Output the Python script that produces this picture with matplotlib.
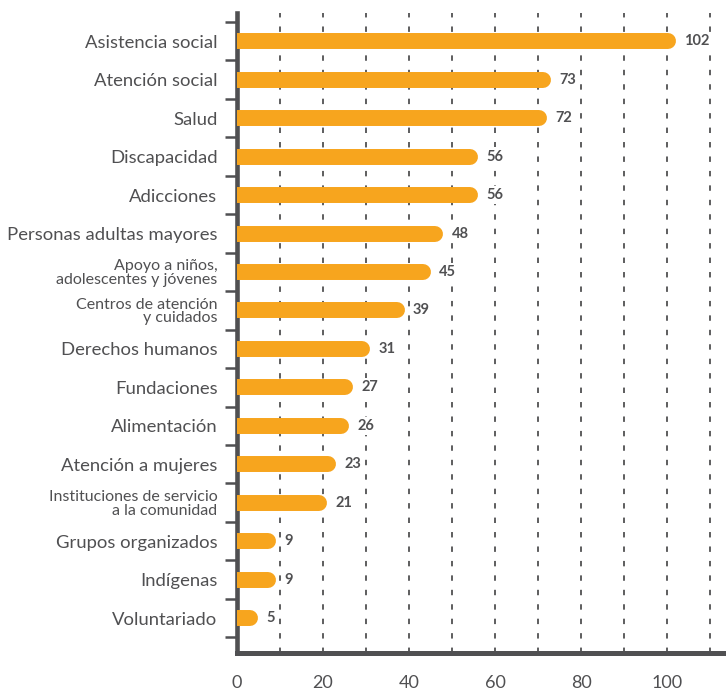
import numpy as np
import matplotlib
matplotlib.use("Agg")
import matplotlib.pyplot as plt
from matplotlib.transforms import ScaledTranslation

categorias = [
    "Asistencia social", "Atención social", "Salud", "Discapacidad",
    "Adicciones", "Personas adultas mayores",
    "Apoyo a niños,\nadolescentes y jóvenes",
    "Centros de atención\ny cuidados", "Derechos humanos", "Fundaciones",
    "Alimentación", "Atención a mujeres",
    "Instituciones de servicio\na la comunidad",
    "Grupos organizados", "Indígenas", "Voluntariado",
]
valores = [102, 73, 72, 56, 56, 48, 45, 39, 31, 27, 26, 23, 21, 9, 9, 5]
xticks = [0, 20, 40, 60, 80, 100]

naranja = "#F7A51E"
gris = "#505052"
plt.rcParams['font.family'] = ['Lato', 'DejaVu Sans']

fig = plt.figure(figsize=(7.26, 6.94), dpi=100)
ax = fig.add_axes([0.3264, 0.059, 0.6736, 0.922])

y = np.arange(len(categorias))
lw = 11.5  # grosor de barra en puntos
# desplazar a la izquierda medio grosor para que el extremo redondeado termine en el valor
shift = ax.transData + ScaledTranslation(-lw / 2 / 72, 0, fig.dpi_scale_trans)
for yi, v in zip(y, valores):
    ax.plot([0, v], [yi, yi], color=naranja, lw=lw, solid_capstyle='round',
            transform=shift, zorder=3)
    ax.annotate(str(v), (v, yi), xytext=(6, 0), textcoords='offset points',
                va='center', ha='left', fontsize=10.5, fontweight='bold', color=gris,
                bbox=dict(boxstyle='square,pad=0.15', fc='white', ec='none'),
                zorder=4)

ax.set_xlim(0, 113.7)
ax.set_ylim(15.91, -0.73)

for gx in range(10, 120, 10):
    ax.axvline(gx, color=gris, lw=1.3, ls=(0, (3, 5)), zorder=1)

ax.set_xticks(xticks)
ax.set_xticklabels([str(t) for t in xticks], fontsize=13, color=gris)
ax.tick_params(axis='x', length=0, pad=16)

ax.set_yticks(y)
ax.set_yticklabels(categorias)
ax.tick_params(axis='y', which='major', length=0, pad=14)
ax.set_yticks(np.arange(-0.5, len(categorias), 1), minor=True)
ax.tick_params(axis='y', which='minor', length=9, width=1.8, color=gris)
for lbl in ax.get_yticklabels():
    lbl.set_color(gris)
    if "\n" in lbl.get_text():
        lbl.set_fontsize(11.5)
        lbl.set_linespacing(0.95)
    else:
        lbl.set_fontsize(13.3)

for s in ['top', 'right']:
    ax.spines[s].set_visible(False)
ax.spines['left'].set_linewidth(3.3)
ax.spines['left'].set_color(gris)
ax.spines['bottom'].set_linewidth(3.6)
ax.spines['bottom'].set_color(gris)

fig.savefig("out.png", dpi=100)
